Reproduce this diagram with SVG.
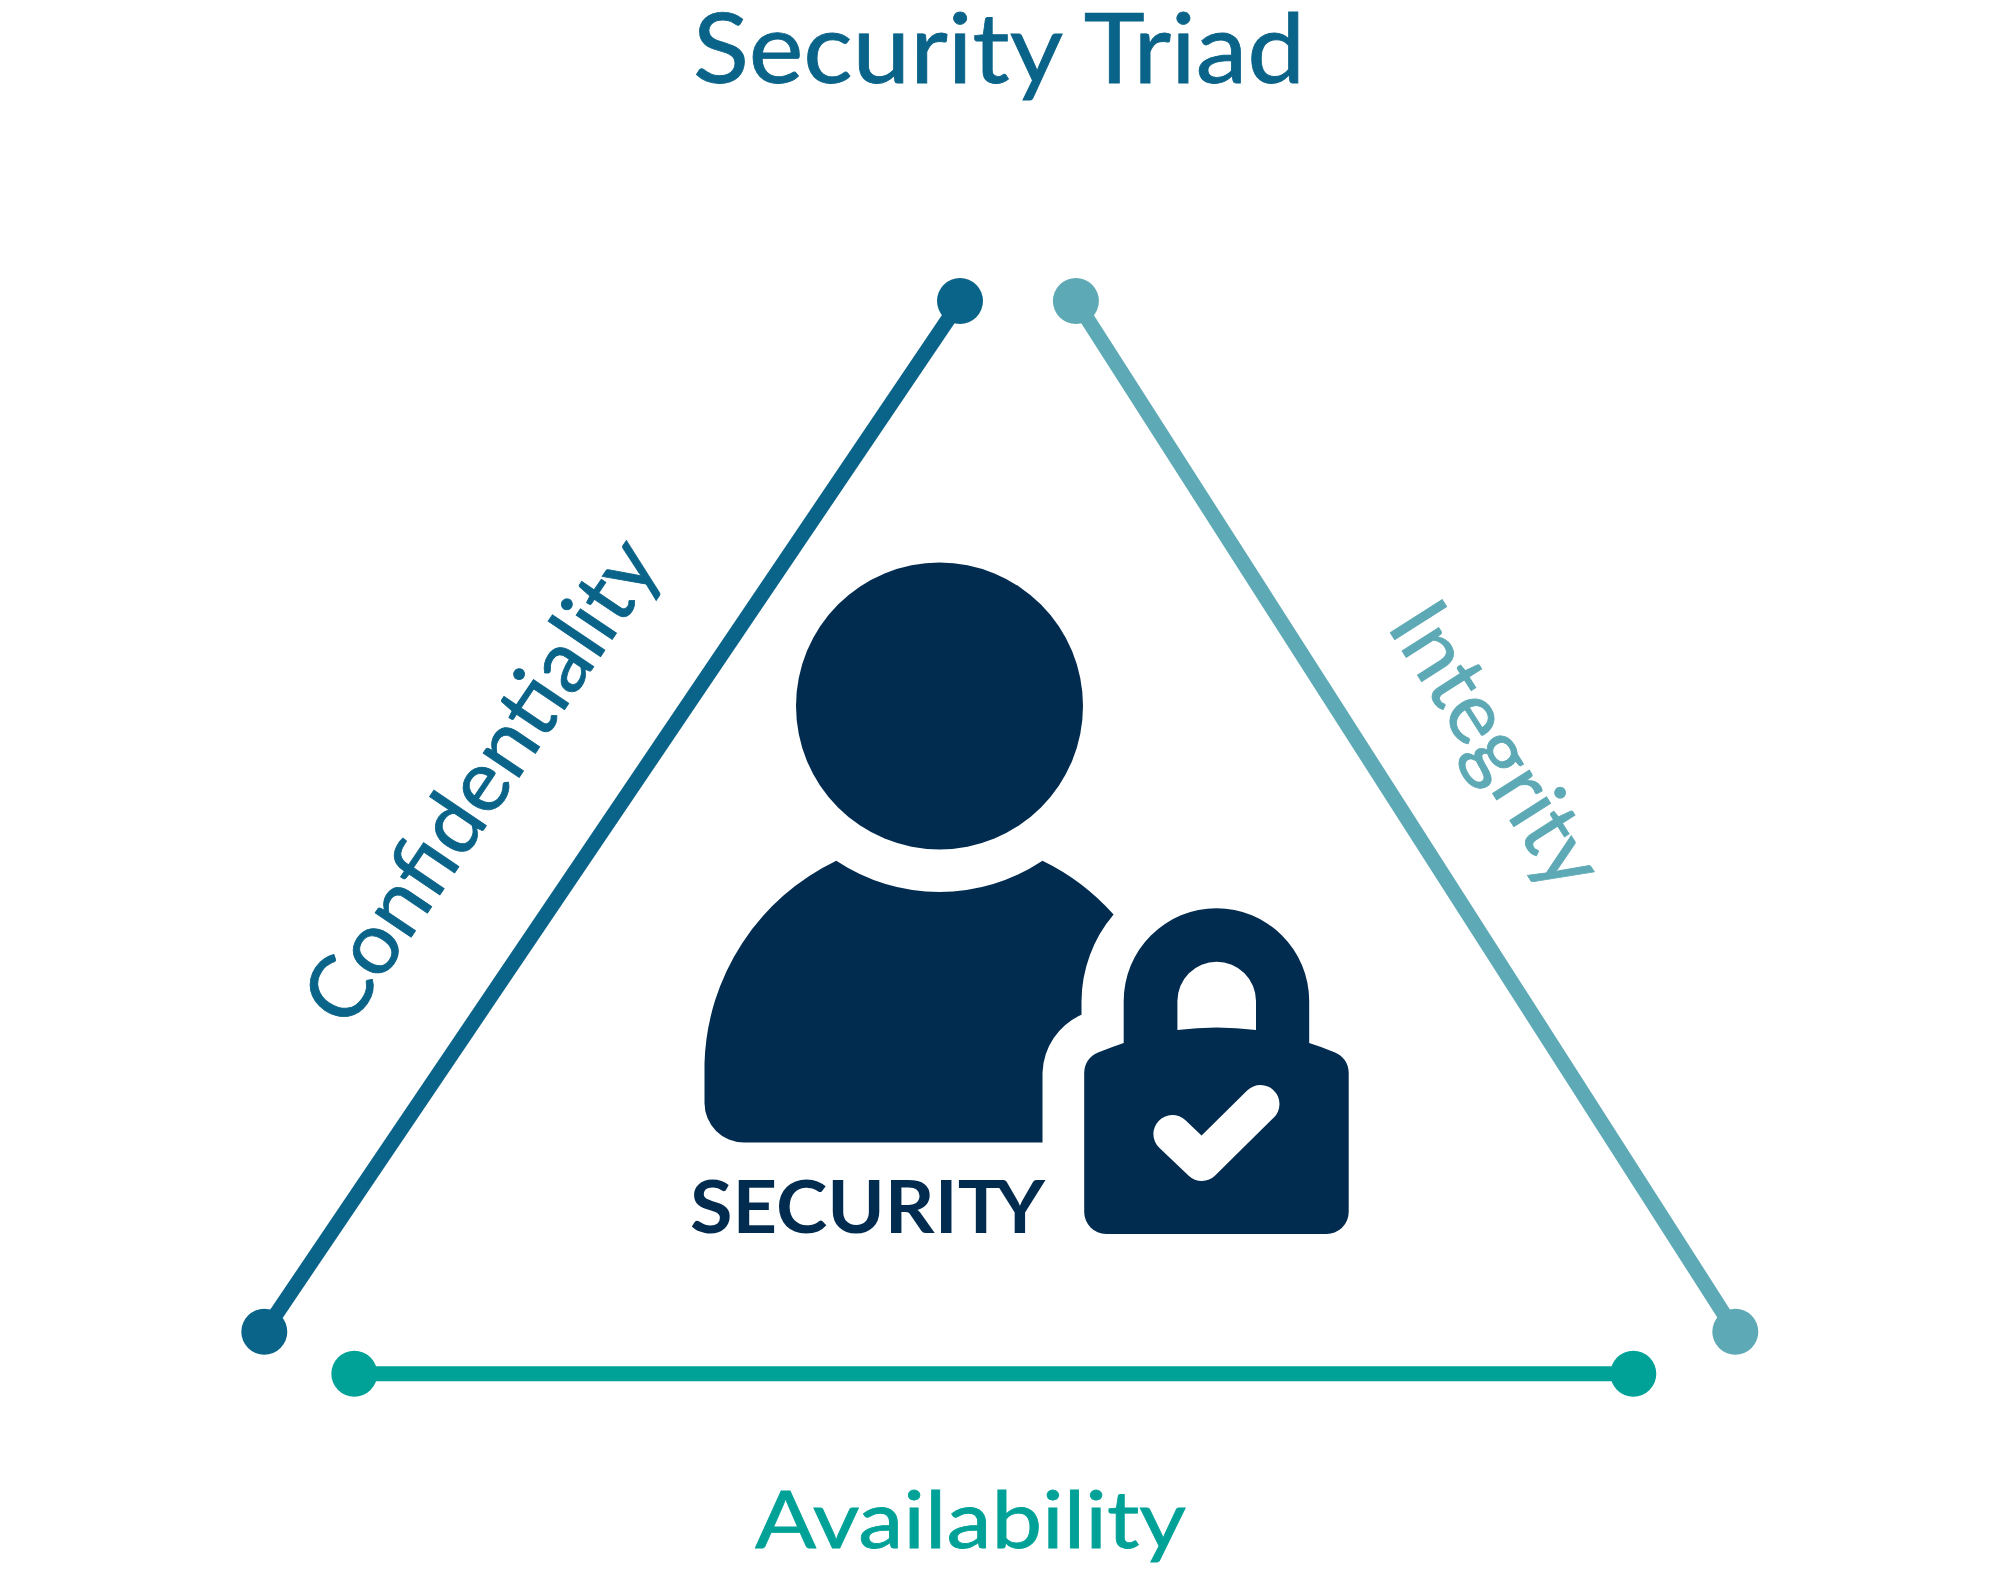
<svg xmlns="http://www.w3.org/2000/svg" width="2000" height="1573" viewBox="0 0 2000 1573">
<style>
.t{font-family:"Lato","Noto Sans",sans-serif;font-weight:400;stroke-width:0.8}
.b{fill:#0A6388}.g{fill:#00A298}.l{fill:#5DA9B5}.n{fill:#022C4F}
text.b{stroke:#0A6388}text.g{stroke:#00A298}text.l{stroke:#5DA9B5}
.c{stroke-width:15;fill:none}
</style>
<rect width="2000" height="1573" fill="#fff"/>
<text id="title" class="t b" x="693" y="83" font-size="97" textLength="612" lengthAdjust="spacingAndGlyphs">Security Triad</text>
<g id="connectors">
<line class="c" stroke="#0A6388" x1="960.5" y1="301" x2="264.3" y2="1331.7"/>
<line class="c" stroke="#5DA9B5" x1="1075.9" y1="301" x2="1735.3" y2="1331.7"/>
<line class="c" stroke="#00A298" x1="354.3" y1="1373.7" x2="1633.3" y2="1373.7"/>
</g>
<g id="confidentiality"><circle class="b" cx="960" cy="301" r="23"/><circle class="b" cx="264.3" cy="1331.7" r="23"/>
<text class="t b" transform="translate(348 1031) rotate(-56)" font-size="86" textLength="563" lengthAdjust="spacingAndGlyphs">Confidentiality</text></g>
<g id="integrity"><circle class="l" cx="1075.9" cy="301" r="23"/><circle class="l" cx="1735.3" cy="1331.7" r="23"/>
<text class="t l" transform="translate(1386 626) rotate(57.5)" font-size="86" textLength="320" lengthAdjust="spacingAndGlyphs">Integrity</text></g>
<g id="availability"><circle class="g" cx="354.3" cy="1373.7" r="23"/><circle class="g" cx="1633.3" cy="1373.7" r="23"/>
<text class="t g" x="755" y="1548" font-size="80" textLength="431" lengthAdjust="spacingAndGlyphs">Availability</text></g>
<g id="security">
<circle class="n" cx="939.5" cy="706" r="143.5"/>
<path class="n" d="M836.3 860.8A186 186 0 0 0 1042.5 860.8A230 230 0 0 1 1113.6 914.6A135 135 0 0 0 1081.5 1001V1014.7A66 66 0 0 0 1042.5 1072.7V1142.5H744A39.5 39.5 0 0 1 704.5 1103V1063A232 232 0 0 1 836.3 860.8Z"/>
<path class="n" fill-rule="evenodd" d="M1123.7 1043V1001A92.7 92.7 0 0 1 1309.2 1001V1043Q1322 1047 1335 1052.4A22 22 0 0 1 1348.7 1073V1212A22 22 0 0 1 1326 1234H1106A22 22 0 0 1 1084.2 1212V1073A22 22 0 0 1 1098 1052.4Q1112 1047 1123.7 1043ZM1177.4 1030Q1216.5 1025 1256 1030V1001A39.3 39.3 0 0 0 1177.4 1001Z"/>
<polyline points="1172.4,1134 1201.8,1162 1260.5,1104" fill="none" stroke="#fff" stroke-width="38" stroke-linecap="round" stroke-linejoin="round"/>
<text class="t n" x="690" y="1233" font-size="73" style="font-weight:700;stroke:none" textLength="355" lengthAdjust="spacingAndGlyphs">SECURIT<tspan dx="-9">Y</tspan></text>
</g>
</svg>
